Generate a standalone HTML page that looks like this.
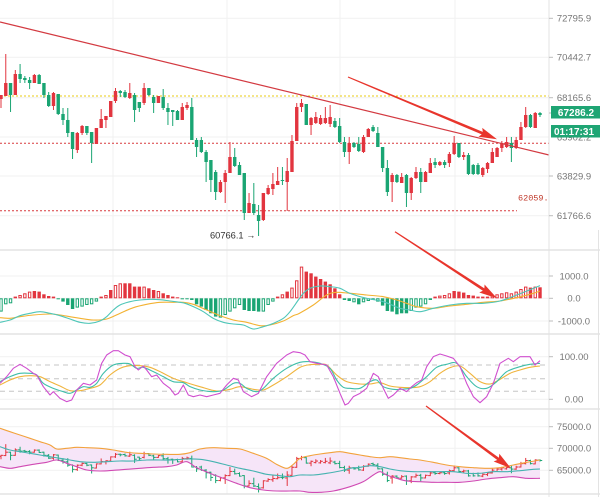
<!DOCTYPE html>
<html><head><meta charset="utf-8">
<style>
html,body{margin:0;padding:0;background:#fff;overflow:hidden;}
svg{display:block;}
text{font-family:"Liberation Sans",sans-serif;}
</style></head>
<body>
<svg id="c" width="600" height="497" viewBox="0 0 600 497" xmlns="http://www.w3.org/2000/svg">
<g id="grid" stroke="#f1f1f1" stroke-width="1" fill="none">
  <line x1="0" y1="18.3" x2="549" y2="18.3"/>
  <line x1="0" y1="57.3" x2="549" y2="57.3"/>
  <line x1="0" y1="97.7" x2="549" y2="97.7"/>
  <line x1="0" y1="137" x2="549" y2="137"/>
  <line x1="0" y1="176" x2="549" y2="176"/>
  <line x1="0" y1="215.7" x2="549" y2="215.7"/>
  <line x1="0" y1="276" x2="549" y2="276"/>
  <line x1="0" y1="298.3" x2="549" y2="298.3"/>
  <line x1="0" y1="321" x2="549" y2="321"/>
  <line x1="0" y1="356.7" x2="549" y2="356.7"/>
  <line x1="0" y1="399.3" x2="549" y2="399.3"/>
  <line x1="0" y1="426.7" x2="549" y2="426.7"/>
  <line x1="0" y1="448.3" x2="549" y2="448.3"/>
  <line x1="0" y1="470.3" x2="549" y2="470.3"/>
  <line x1="113" y1="0" x2="113" y2="494"/>
  <line x1="227" y1="0" x2="227" y2="494"/>
  <line x1="340" y1="0" x2="340" y2="494"/>
  <line x1="455" y1="0" x2="455" y2="494"/>
</g>
<g id="dash" fill="none" stroke-width="1">
  <line x1="0" y1="365" x2="549" y2="365" stroke="#c6c6c6" stroke-dasharray="5 4"/>
  <line x1="0" y1="378.7" x2="549" y2="378.7" stroke="#c6c6c6" stroke-dasharray="5 4"/>
  <line x1="0" y1="391.3" x2="549" y2="391.3" stroke="#c6c6c6" stroke-dasharray="5 4"/>
  <line x1="0" y1="96" x2="549" y2="96" stroke="#eacb10" stroke-dasharray="2 2"/>
  <line x1="0" y1="143.3" x2="549" y2="143.3" stroke="#d83a3e" stroke-dasharray="2 2"/>
  <line x1="0" y1="210.8" x2="517" y2="210.8" stroke="#d83a3e" stroke-dasharray="2 2"/>
</g>
<g id="shapes"></g>
<g id="frame" stroke="#e3e3e3" fill="none">
  <line x1="0" y1="250" x2="600" y2="250" stroke-width="1.5"/>
  <line x1="0" y1="334" x2="600" y2="334" stroke-width="1.5"/>
  <line x1="0" y1="409" x2="600" y2="409" stroke-width="1.5"/>
  <line x1="0" y1="494" x2="600" y2="494" stroke-width="1.5"/>
  <line x1="549" y1="0" x2="549" y2="497" stroke-width="1"/>
  <line x1="598.5" y1="230" x2="598.5" y2="497" stroke-width="1"/>
  <g stroke="#bdbdbd">
  <line x1="549" y1="18.3" x2="553" y2="18.3"/>
  <line x1="549" y1="57.3" x2="553" y2="57.3"/>
  <line x1="549" y1="97.7" x2="553" y2="97.7"/>
  <line x1="549" y1="113" x2="553" y2="113"/>
  <line x1="549" y1="176" x2="553" y2="176"/>
  <line x1="549" y1="215.7" x2="553" y2="215.7"/>
  <line x1="549" y1="276" x2="553" y2="276"/>
  <line x1="549" y1="298.3" x2="553" y2="298.3"/>
  <line x1="549" y1="321" x2="553" y2="321"/>
  <line x1="549" y1="356.7" x2="553" y2="356.7"/>
  <line x1="549" y1="399.3" x2="553" y2="399.3"/>
  <line x1="549" y1="426.7" x2="553" y2="426.7"/>
  <line x1="549" y1="448.3" x2="553" y2="448.3"/>
  <line x1="549" y1="470.3" x2="553" y2="470.3"/>
  </g>
</g>
<g id="arrows"></g>
<g id="labels" font-size="9.5" fill="#777" text-anchor="middle">
  <text x="574" y="21.7">72795.9</text>
  <text x="574" y="60.7">70442.7</text>
  <text x="574" y="101.1">68165.6</text>
  <text x="574" y="140.4">65902.2</text>
  <text x="574" y="179.4">63829.9</text>
  <text x="574" y="219.1">61766.6</text>
  <text x="574" y="279.4">1000.0</text>
  <text x="574" y="301.7">0.0</text>
  <text x="574" y="324.4">-1000.0</text>
  <text x="574" y="360.1">100.00</text>
  <text x="574" y="402.7">0.00</text>
  <text x="574" y="430.1">75000.0</text>
  <text x="574" y="451.7">70000.0</text>
  <text x="574" y="473.7">65000.0</text>
</g>
<rect x="551" y="106" width="49" height="12.5" fill="#1fa574"/>
<rect x="551" y="125" width="49" height="12.5" fill="#1fa574"/>
<text x="576" y="116" font-size="10" font-weight="bold" fill="#fff" text-anchor="middle">67286.2</text>
<text x="574" y="135" font-size="10" font-weight="bold" fill="#fff" text-anchor="middle">01:17:31</text>
<text x="518" y="200.5" font-size="8.5" fill="#c0392b" style="font-family:'Liberation Mono',monospace">62059.</text>
<text x="210" y="238.3" font-size="9.3" fill="#333">60766.1 →</text>
</svg>
<script>
(function(){
const NS='http://www.w3.org/2000/svg';
function el(p,t,a){const e=document.createElementNS(NS,t);for(const k in a)e.setAttribute(k,a[k]);p.appendChild(e);return e;}
const R='#e2353f',G='#1aa573';
const X=i=>1+4.77*i;
const g=document.getElementById('shapes');
const C=[
['r',95,99,95,108],['r',83,96,54,96],['g',83,95,83,112],['r',74,95,70,95],['g',74,79,64,83],
['g',78,80,76,83],['g',80,83,77,89],['r',75,83,74,83],['g',75,84,74,84],['g',83,95,83,98],
['g',95,106,92,107],['r',93,106,92,110],['g',94,114,94,115],['g',114,120,108,125],['g',120,133,108,137],
['g',132,149,132,159],['r',133,150,132,153],['r',126,133,125,135],['g',126,133,126,135],['g',132,143,132,163],
['r',128,144,128,144],['r',119,128,109,128],['r',116,120,116,128],['r',101,117,101,117],['r',91,101,88,103],
['g',91,93,90,97],['g',92,97,90,98],['r',93,98,83,99],['g',95,110,93,122],['g',102,108,102,112],
['r',88,103,83,105],['g',88,95,88,96],['g',97,103,95,113],['r',96,103,96,103],['g',97,108,89,110],
['g',108,112,103,125],['g',110,112,110,126],['g',111,120,110,120],['r',107,120,103,120],['r',105,108,102,110],
['g',107,140,98,140],['g',140,147,138,157],['g',140,152,137,153],['g',152,162,150,182],['g',160,180,160,192],
['g',172,192,170,200],['r',182,192,180,193],['r',173,182,170,203],['r',157,173,142,173],['g',157,166,148,167],
['g',165,175,162,175],['g',173,213,173,220],['r',203,213,193,213],['g',204,213,183,215],['g',215,221,205,236],
['r',193,220,193,221],['r',188,194,185,195],['r',184,189,173,195],['r',181,185,167,185],['g',180,181,167,185],
['r',171,182,158,211],['r',141,172,135,172],['r',107,141,103,141],['r',103,107,99,112],['g',104,125,104,125],
['r',118,125,117,135],['r',117,123,112,124],['r',118,124,115,125],['r',118,123,107,124],['r',117,124,105,127],
['g',121,127,118,128],['g',126,142,118,143],['g',142,152,137,157],['r',143,152,137,164],['g',143,147,142,148],
['g',144,151,137,152],['r',137,152,135,153],['r',129,137,128,137],['g',127,131,125,132],['g',133,147,127,147],
['g',147,168,147,172],['g',168,192,160,196],['r',175,182,173,202],['g',175,182,174,183],['r',177,183,173,183],
['g',175,193,174,207],['r',178,193,177,200],['r',172,178,167,179],['g',172,182,168,193],['r',172,182,171,182],
['r',163,173,158,173],['g',162,165,158,168],['r',162,165,161,166],['g',162,165,160,168],['r',154,163,152,167],
['r',143,154,136,155],['g',143,157,143,158],['r',155,157,152,160],['g',155,174,153,175],['g',165,174,164,175],
['g',165,174,163,175],['r',168,175,167,177],['r',163,169,162,173],['r',152,163,148,163],['r',148,157,147,157],
['r',143,148,141,152],['r',142,147,137,148],['g',143,148,137,162],['r',140,148,137,149],['r',127,140,122,140],
['r',115,127,107,128],['g',115,127,114,128],['r',113,128,112,128],['g',113,115,112,117]
];
const M=[[-13.3,1],[-6,1],[-5,1],[1.7,0],[3.3,1],[5,1],[6.7,1],[7.3,0],[6.7,0],[4,0],[2.3,0],[1.7,0],[-1,0],[-3.3,0],[-6.7,0],[-10.7,0],[-9.3,1],[-8.3,1],[-6.7,1],[-6,1],[-3.3,1],[1.7,1],[3.3,1],[8.3,0],[13.3,1],[15,1],[15,0],[15,0],[11.7,0],[11.7,0],[11.7,1],[10,0],[8.3,0],[7.3,1],[5,0],[3.3,0],[1.7,0],[1,0],[-1,0],[-1,0],[-1.7,0],[-6,0],[-8.3,0],[-11.7,0],[-15,0],[-18.3,0],[-19.3,1],[-16.7,1],[-13.3,1],[-10,1],[-6.7,1],[-11.7,0],[-12.7,0],[-12.7,0],[-13.3,0],[-13.3,1],[-6.7,1],[-3.3,1],[1.7,1],[4,1],[6.7,0],[10.7,1],[18,1],[31.7,1],[26.7,0],[25,0],[21.7,0],[19.3,0],[16.7,0],[14,0],[10,0],[4,0],[-1.7,0],[-2.7,0],[-4,1],[-6,0],[-4,1],[-2.7,1],[-1.7,1],[-3.3,1],[-7.3,0],[-12.7,0],[-13.3,0],[-16,0],[-15,0],[-15,0],[-12.7,1],[-9.3,1],[-8.3,1],[-6,1],[-1.7,1],[1.7,0],[2.7,1],[3.3,1],[5,1],[7.3,0],[6.7,0],[5.7,0],[3.3,0],[2.7,0],[1.7,0],[1.7,0],[1.7,0],[2.7,1],[4,1],[5,1],[6,1],[5,1],[6.7,1],[9.3,1],[11.7,1],[10.7,0],[11.7,1],[11,0]];

function Z(a,ox,oy){return a.map(p=>[+(ox+p[0]/3).toFixed(2),+(oy+p[1]/3).toFixed(2)]);}
function smooth(p){let d='M'+p[0][0]+','+p[0][1];for(let i=0;i<p.length-1;i++){const p0=p[i-1]||p[i],p1=p[i],p2=p[i+1],p3=p[i+2]||p2;const c1=[(p1[0]+(p2[0]-p0[0])/6).toFixed(2),(p1[1]+(p2[1]-p0[1])/6).toFixed(2)],c2=[(p2[0]-(p3[0]-p1[0])/6).toFixed(2),(p2[1]-(p3[1]-p1[1])/6).toFixed(2)];d+='C'+c1.join(',')+' '+c2.join(',')+' '+p2.join(',');}return d;}
function poly(p){return 'M'+p.map(q=>q.join(',')).join('L');}

/* BOLL band fill */
const bu=Z([[0,70],[30,80],[60,90],[90,100],[120,110],[150,120],[170,132],[200,130],[230,127],[260,128],[300,130],[340,135],[380,142],[420,145],[460,147],[500,148],[540,148],[570,143],[600,132],[640,128],[680,130],[720,132],[760,145],[800,160],[830,178],[860,190],[880,178],[900,160]],0,405).concat(Z([[30,152],[60,147],[90,143],[120,140],[150,145],[180,150],[210,155],[240,158],[270,155],[300,158],[330,162],[360,165],[400,172],[440,180],[480,185],[520,188],[560,190],[600,188],[640,180],[680,172],[720,165]],300,405));
const bm=Z([[0,125],[30,135],[60,140],[90,145],[120,150],[150,155],[180,160],[210,165],[240,170],[280,172],[320,170],[360,168],[400,168],[440,165],[480,165],[520,165],[560,162],[600,163],[640,170],[680,180],[720,190],[760,198],[800,208],[840,212],[870,215],[900,210]],0,405).concat(Z([[40,210],[80,205],[120,198],[150,190],[180,187],[210,182],[240,185],[270,192],[300,197],[340,200],[380,200],[420,200],[460,200],[500,205],[540,205],[580,200],[620,200],[660,197],[700,193],[720,192]],300,405));
const bl=Z([[0,185],[30,190],[60,185],[100,178],[140,172],[170,165],[200,175],[230,185],[260,195],[300,198],[340,196],[380,193],[420,190],[460,187],[500,185],[530,180],[560,170],[590,188],[630,205],[670,220],[710,235],[750,248],[790,255],[830,258],[870,258],[900,258]],0,405).concat(Z([[30,262],[60,262],[100,258],[150,245],[190,230],[220,210],[240,200],[260,210],[290,220],[320,228],[360,230],[400,232],[440,232],[480,232],[520,228],[560,222],[600,218],[640,215],[680,220],[720,220]],300,405));
el(g,'polygon',{points:bu.concat(bl.slice().reverse()).map(p=>p.join(',')).join(' '),fill:'#f6e5f8'});

/* main candles */
C.forEach((d,i)=>{const x=X(i),col=d[0]=='r'?R:G;
 el(g,'line',{x1:x,x2:x,y1:d[3],y2:d[4],stroke:col,'stroke-width':1});
 el(g,'rect',{x:x-1.7,y:d[1],width:3.4,height:Math.max(1,d[2]-d[1]),fill:col});
});

/* MACD histogram */
const Z0=298.3;
M.forEach((m,i)=>{const x=X(i),v=m[0],col=v>0?R:G;const top=v>0?Z0-v:Z0,h=Math.max(1,Math.abs(v));
 if(m[1]){el(g,'rect',{x:x-1.2,y:top+0.5,width:2.4,height:Math.max(0.5,h-1),fill:'#fff',stroke:col,'stroke-width':1});}
 else el(g,'rect',{x:x-1.7,y:top,width:3.4,height:h,fill:col});
});

/* BOLL bars */
const fb=y=>460+(y-113)*0.26;
C.forEach((d,i)=>{const x=X(i),col=d[0]=='r'?R:G;
 const o=d[0]=='r'?d[2]:d[1],c=d[0]=='r'?d[1]:d[2];
 el(g,'line',{x1:x,x2:x,y1:fb(d[3])-0.5,y2:fb(d[4])+0.5,stroke:col,'stroke-width':1});
 el(g,'line',{x1:x-2.2,x2:x,y1:fb(o),y2:fb(o),stroke:col,'stroke-width':1});
 el(g,'line',{x1:x,x2:x+2.2,y1:fb(c),y2:fb(c),stroke:col,'stroke-width':1});
});

function path(p,col,w,sm){el(g,'path',{d:sm?smooth(p):poly(p),fill:'none',stroke:col,'stroke-width':w,'stroke-linejoin':'round'});}
path(bu,'#f2a23c',1.1,1);path(bm,'#45b3b0',1.1,1);path(bl,'#d04ab3',1.1,1);

/* MACD lines */
const mc=Z([[0,232],[30,225],[60,212],[90,205],[120,200],[150,205],[180,212],[210,222],[240,232],[270,235],[300,228],[320,215],[340,195],[360,180],[390,170],[420,165],[450,163],[480,164],[510,168],[540,172],[555,175],[580,185],[610,200],[640,220],[670,232],[700,237],[730,240],[760,252],[790,245],[820,235],[850,220],[870,200],[895,165]],0,245).concat(Z([[10,145],[30,130],[60,123],[90,125],[120,130],[150,145],[200,160],[250,170],[300,190],[330,195],[360,200],[400,190],[450,180],[500,175],[550,175],[600,168],[650,150],[700,130],[720,122]],300,245));
const mo=Z([[0,218],[30,220],[60,215],[100,210],[150,207],[180,210],[210,215],[240,220],[280,225],[320,222],[360,205],[400,188],[440,178],[480,172],[520,172],[550,172],[580,178],[620,195],[660,212],[700,225],[740,232],[780,242],[810,240],[850,228],[880,212],[898,205]],0,245).concat(Z([[40,180],[80,150],[110,142],[150,145],[200,150],[250,155],[290,165],[320,175],[350,185],[400,190],[450,183],[500,178],[550,172],[600,168],[650,158],[700,145],[720,138]],300,245));
path(mo,'#f3b232',1.1,1);path(mc,'#4fc6b8',1.1,1);

/* KDJ */
const kj=Z([[0,160],[20,140],[40,115],[60,103],[80,115],[100,130],[110,135],[130,170],[150,195],[160,185],[180,205],[200,215],[215,210],[230,180],[250,160],[270,165],[290,150],[305,100],[320,75],[340,62],[355,62],[375,75],[390,80],[405,110],[415,120],[430,108],[440,120],[455,140],[470,135],[490,160],[510,175],[525,195],[535,190],[550,165],[565,195],[580,200],[600,195],[620,200],[640,195],[660,190],[680,165],[700,145],[715,150],[730,185],[755,200],[775,190],[800,140],[830,100],[860,75],[880,65]],0,330).concat(Z([[0,68],[15,75],[30,95],[50,100],[80,105],[100,140],[120,190],[135,225],[145,220],[160,200],[180,190],[200,175],[220,130],[235,140],[250,175],[265,205],[280,195],[300,175],[320,185],[335,170],[350,158],[365,150],[380,110],[400,80],[420,72],[440,78],[460,85],[480,110],[500,160],[520,200],[540,218],[560,200],[580,160],[600,100],[625,85],[640,95],[660,80],[690,80],[705,105],[720,92]],300,330));
const kk=Z([[0,155],[30,140],[60,130],[90,130],[110,135],[130,160],[160,175],[190,185],[210,190],[230,180],[250,170],[270,172],[290,160],[310,130],[340,105],[370,100],[390,102],[410,115],[430,112],[460,125],[490,140],[520,155],[550,158],[570,170],[600,180],[640,185],[670,180],[700,160],[720,160],[740,175],[770,185],[790,175],[820,145],[860,115]],0,330).concat(Z([[0,97],[30,95],[60,100],[90,115],[110,150],[130,172],[150,175],[180,175],[210,155],[230,150],[250,170],[280,178],[300,178],[330,175],[350,165],[380,140],[410,112],[440,103],[470,100],[500,140],[530,170],[560,175],[590,155],[620,125],[660,110],[690,103],[720,100]],300,330));
const kd=Z([[0,165],[30,150],[60,140],[90,137],[120,140],[150,155],[180,168],[210,182],[240,182],[270,175],[300,165],[330,135],[360,115],[390,107],[420,107],[450,112],[480,125],[520,145],[560,158],[600,170],[650,183],[690,178],[720,170],[760,178],[790,180],[820,165],[860,140]],0,330).concat(Z([[0,112],[30,104],[60,103],[80,105],[110,135],[140,155],[180,162],[210,162],[240,158],[270,168],[300,172],[330,173],[360,170],[390,155],[420,130],[450,113],[480,108],[510,130],[540,155],[570,162],[600,148],[630,130],[660,120],[690,112],[720,108]],300,330));
path(kd,'#f0b43c',1.1,1);path(kk,'#3fbea9',1.1,1);path(kj,'#d04fcf',1.1,0);

/* trendline */
el(g,'line',{x1:0,y1:22,x2:549,y2:155,stroke:'#d33a41','stroke-width':1.2});

/* arrows */
const ga=document.getElementById('arrows');
function arrow(x1,y1,x2,y2){const dx=x2-x1,dy=y2-y1,L=Math.hypot(dx,dy),ux=dx/L,uy=dy/L,nx=-uy,ny=ux;const hl=16,hw=4.8;const bx=x2-ux*hl,by=y2-uy*hl;const P=[[x1+nx*0.6,y1+ny*0.6],[bx+nx*1.4,by+ny*1.4],[bx-ux*2+nx*hw,by-uy*2+ny*hw],[x2,y2],[bx-ux*2-nx*hw,by-uy*2-ny*hw],[bx-nx*1.4,by-ny*1.4],[x1-nx*0.6,y1-ny*0.6]];el(ga,'polygon',{points:P.map(p=>p[0].toFixed(2)+','+p[1].toFixed(2)).join(' '),fill:'#e8352c'});}
arrow(348,77,497,139.3);
arrow(395,231.7,497,298.3);
arrow(426,406,511,468.3);
})();
</script>
</body></html>
